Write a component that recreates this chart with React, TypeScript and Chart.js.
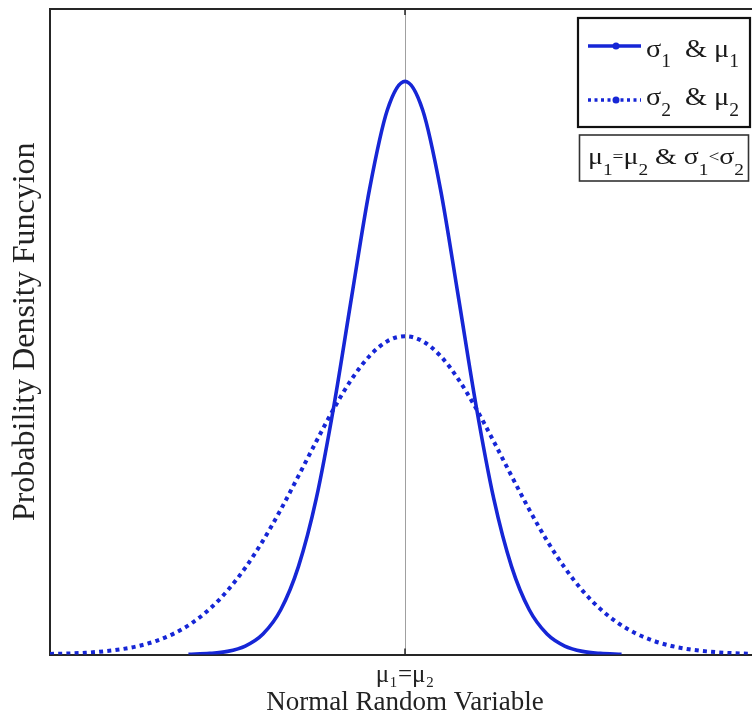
import React, { useEffect, useRef } from "react";
import { Chart, registerables } from "chart.js";

Chart.register(...registerables);

// ---- data ----
const xRange = [-5, 5];
const yRange = [0, 0.58];

// narrow curve (sigma1 & mu1)
const narrowX = [-3.05, -2.75, -2.5, -2.25, -2, -1.75, -1.5, -1.25, -1, -0.75, -0.5, -0.25, 0,
  0.25, 0.5, 0.75, 1, 1.25, 1.5, 1.75, 2, 2.25, 2.5, 2.75, 3.05];
const narrowY = [0.0002, 0.001, 0.0028, 0.0076, 0.0184, 0.0402, 0.0792, 0.14, 0.224, 0.322, 0.418, 0.489, 0.515,
  0.489, 0.418, 0.322, 0.224, 0.14, 0.0792, 0.0402, 0.0184, 0.0076, 0.0028, 0.001, 0.0002];

// wide curve (sigma2 & mu2)
const wideX = [-5, -4.75, -4.5, -4.25, -4, -3.75, -3.5, -3.25, -3, -2.75, -2.5, -2.25, -2, -1.75, -1.5, -1.25, -1, -0.75, -0.5, -0.25, 0,
  0.25, 0.5, 0.75, 1, 1.25, 1.5, 1.75, 2, 2.25, 2.5, 2.75, 3, 3.25, 3.5, 3.75, 4, 4.25, 4.5, 4.75, 5];
const wideY = [0.0005, 0.0009, 0.0016, 0.0028, 0.0047, 0.0077, 0.0123, 0.019, 0.0283, 0.041, 0.0574, 0.0779, 0.1023, 0.1302, 0.1605, 0.1914, 0.2212, 0.2475, 0.2682, 0.2815, 0.286,
  0.2815, 0.2682, 0.2475, 0.2212, 0.1914, 0.1605, 0.1302, 0.1023, 0.0779, 0.0574, 0.041, 0.0283, 0.019, 0.0123, 0.0077, 0.0047, 0.0028, 0.0016, 0.0009, 0.0005];

const tickValues = [0];
const tickLabels = ["μ₁=μ₂"];
const xTitle = "Normal Random Variable";
const yTitle = "Probability Density Funcyion";

type Seg = { t: string; sub?: boolean; small?: boolean };
const legendRow1: Seg[] = [{ t: "σ" }, { t: "1", sub: true }, { t: "  & " }, { t: "μ" }, { t: "1", sub: true }];
const legendRow2: Seg[] = [{ t: "σ" }, { t: "2", sub: true }, { t: "  & " }, { t: "μ" }, { t: "2", sub: true }];
const noteRow: Seg[] = [
  { t: "μ" }, { t: "1", sub: true }, { t: "=", small: true }, { t: "μ" }, { t: "2", sub: true },
  { t: " & " }, { t: "σ" }, { t: "1", sub: true }, { t: "<", small: true }, { t: "σ" }, { t: "2", sub: true },
];

const BLUE = "rgb(22,38,214)";
const FONT = "'Liberation Serif', 'Times New Roman', serif";
const INK = "#1a1a1a";

function drawRich(
  ctx: CanvasRenderingContext2D, segs: Seg[], x: number, base: number,
  mainPx: number, subPx: number, subDrop: number, width: number
) {
  const fontOf = (s: Seg) => `${s.sub || s.small ? subPx : mainPx}px ${FONT}`;
  let total = 0;
  for (const s of segs) { ctx.font = fontOf(s); total += ctx.measureText(s.t).width; }
  const sx = width / total;
  ctx.save();
  ctx.translate(x, base);
  ctx.scale(sx, 1);
  ctx.fillStyle = INK;
  ctx.textBaseline = "alphabetic";
  ctx.textAlign = "left";
  let cx = 0;
  for (const s of segs) {
    ctx.font = fontOf(s);
    ctx.fillText(s.t, cx, s.sub ? subDrop : s.small ? -2 : 0);
    cx += ctx.measureText(s.t).width;
  }
  ctx.restore();
}

const framePlugin = {
  id: "frameAndLegend",
  afterDraw(chart: any) {
    const { ctx, chartArea: a } = chart;
    ctx.save();
    // top frame line
    ctx.strokeStyle = "#262626";
    ctx.lineWidth = 2;
    ctx.beginPath();
    ctx.moveTo(a.left - 1, a.top);
    ctx.lineTo(a.right, a.top);
    ctx.stroke();
    // inner tick marks at the center tick
    const x0 = chart.scales.x.getPixelForValue(tickValues[0]);
    ctx.lineWidth = 1.5;
    ctx.beginPath();
    ctx.moveTo(x0, a.top);
    ctx.lineTo(x0, a.top + 6);
    ctx.moveTo(x0, a.bottom);
    ctx.lineTo(x0, a.bottom - 6);
    ctx.stroke();

    // legend box
    ctx.fillStyle = "#fff";
    ctx.fillRect(578, 18, 172, 109);
    ctx.strokeStyle = "#111";
    ctx.lineWidth = 2.2;
    ctx.strokeRect(578, 18, 172, 109);

    // row 1 sample
    ctx.strokeStyle = BLUE;
    ctx.lineWidth = 3.5;
    ctx.setLineDash([]);
    ctx.beginPath();
    ctx.moveTo(588, 46);
    ctx.lineTo(641, 46);
    ctx.stroke();
    ctx.fillStyle = BLUE;
    ctx.beginPath();
    ctx.arc(616, 46, 3.5, 0, Math.PI * 2);
    ctx.fill();
    // row 2 sample
    ctx.setLineDash([3, 3.5]);
    ctx.beginPath();
    ctx.moveTo(588, 100);
    ctx.lineTo(641, 100);
    ctx.stroke();
    ctx.setLineDash([]);
    ctx.beginPath();
    ctx.arc(616, 100, 3.5, 0, Math.PI * 2);
    ctx.fill();

    drawRich(ctx, legendRow1, 646, 57, 26, 18, 10, 93);
    drawRich(ctx, legendRow2, 646, 105, 26, 18, 11, 93);

    // note box
    ctx.fillStyle = "#fff";
    ctx.fillRect(579.5, 135, 169, 46);
    ctx.strokeStyle = "#333";
    ctx.lineWidth = 1.6;
    ctx.strokeRect(579.5, 135, 169, 46);
    drawRich(ctx, noteRow, 588, 164, 23, 16, 11, 156);
    ctx.restore();
  },
};

export default function App() {
  const ref = useRef<HTMLCanvasElement | null>(null);

  useEffect(() => {
    if (!ref.current) return;
    const chart = new Chart(ref.current, {
      type: "line",
      data: {
        datasets: [
          {
            label: "σ1 & μ1",
            data: narrowX.map((x, i) => ({ x, y: narrowY[i] })),
            borderColor: BLUE,
            borderWidth: 3.6,
            pointRadius: 0,
            cubicInterpolationMode: "monotone",
            fill: false,
          },
          {
            label: "σ2 & μ2",
            data: wideX.map((x, i) => ({ x, y: wideY[i] })),
            borderColor: BLUE,
            borderWidth: 4,
            borderDash: [4, 4.2],
            borderCapStyle: "butt",
            pointRadius: 0,
            cubicInterpolationMode: "monotone",
            fill: false,
          },
        ],
      },
      options: {
        responsive: false,
        animation: false,
        layout: { padding: { top: 9, right: 10, left: 0, bottom: 0 } },
        plugins: {
          legend: { display: false },
          tooltip: { enabled: false },
        },
        scales: {
          x: {
            type: "linear",
            min: xRange[0],
            max: xRange[1],
            afterBuildTicks: (s: any) => {
              s.ticks = tickValues.map((v) => ({ value: v }));
            },
            ticks: {
              autoSkip: false,
              maxRotation: 0,
              padding: 8,
              color: "#222",
              font: { family: FONT, size: 25, lineHeight: 1 },
              callback: (v: any) => {
                const i = tickValues.indexOf(Number(v));
                return i >= 0 ? tickLabels[i] : "";
              },
            },
            grid: { color: "#a0a0a0", lineWidth: 1, drawTicks: false },
            border: { display: true, color: "#262626", width: 2 },
            title: {
              display: true,
              text: xTitle,
              color: "#222",
              font: { family: FONT, size: 27, lineHeight: 1 },
              padding: { top: -6, bottom: 5.5 },
            },
          },
          y: {
            type: "linear",
            min: yRange[0],
            max: yRange[1],
            ticks: { display: false },
            grid: { display: false, drawTicks: false },
            border: { display: true, color: "#262626", width: 2 },
            title: {
              display: true,
              text: yTitle,
              color: "#222",
              font: { family: FONT, size: 32, lineHeight: 1.2 },
              padding: { top: 6, bottom: 5.6 },
            },
          },
        },
      } as any,
      plugins: [framePlugin],
    });
    return () => chart.destroy();
  }, []);

  return (
    <div style={{ position: "fixed", left: 0, top: 0, width: 752, height: 722, overflow: "hidden", background: "#fff" }}>
      <canvas ref={ref} width={770} height={722} style={{ display: "block" }} />
    </div>
  );
}
